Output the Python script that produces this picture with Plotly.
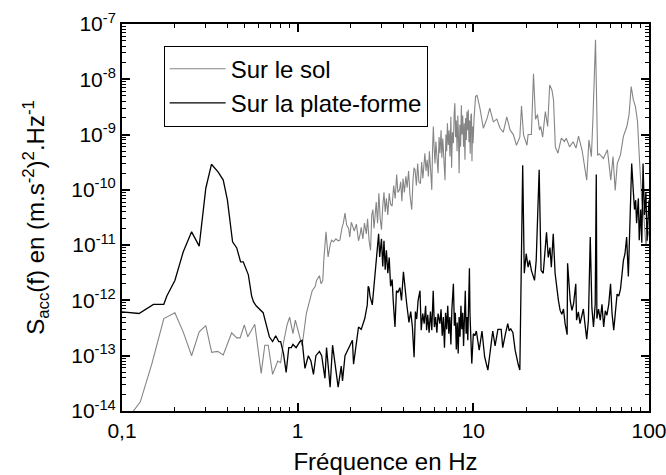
import plotly.graph_objects as go

# ---------------- data ----------------
sol_freq = [0.11, 0.116, 0.127, 0.148, 0.173, 0.200, 0.223, 0.249, 0.275, 0.300, 0.324, 0.350, 0.377,
            0.421, 0.450, 0.470, 0.497, 0.520, 0.570, 0.620, 0.650, 0.680, 0.720, 0.770, 0.800, 0.830,
            0.870, 0.900, 0.940, 0.970, 1.00, 1.06, 1.12, 1.17, 1.21, 1.26, 1.28, 1.33, 1.36, 1.39,
            1.41, 1.45, 1.49, 1.53, 1.56, 1.60, 1.65, 1.70, 1.74, 1.79, 1.82, 1.86, 1.90, 1.95, 1.98,
            2.02, 2.05, 2.10, 2.16, 2.22, 2.27, 2.30, 2.35, 2.40, 2.46, 2.50, 2.55, 2.60, 2.64, 2.68,
            2.72, 2.76, 2.80, 2.85, 2.90, 2.95, 3.00, 3.05, 3.10, 3.15, 3.20, 3.26, 3.32, 3.38, 3.45,
            3.52, 3.59, 3.66, 3.72, 3.80, 3.86, 3.92, 3.98, 4.05, 4.13, 4.20, 4.28, 4.36, 4.46, 4.54,
            4.60, 4.66, 4.74, 4.82, 4.90, 5.00, 5.08, 5.16, 5.24, 5.30, 5.38, 5.46, 5.55, 5.62, 5.70,
            5.80, 5.86, 5.92, 5.98, 6.05, 6.12, 6.20, 6.30, 6.38, 6.46, 6.55, 6.62, 6.70, 6.90, 6.98,
            7.05, 7.12, 7.20, 7.28, 7.36, 7.45, 7.52, 7.60, 7.70, 7.78, 7.85, 7.92, 8.00, 8.08, 8.16,
            8.24, 8.30, 8.38, 8.46, 8.55, 8.62, 8.70, 8.80, 8.88, 8.96, 9.04, 9.12, 9.20, 9.28, 9.36,
            9.44, 9.52, 9.60, 9.68, 9.76, 9.82, 9.90, 9.96, 10.02, 10.1, 10.3, 10.5, 10.9, 11.4, 12.0,
            12.4, 13.0, 13.6, 14.2, 14.8, 15.5, 16.2, 16.9, 17.6, 18.4, 18.8, 19.3, 20.2, 20.5, 21.4,
            22.0, 22.6, 23.2, 23.8, 24.2, 24.8, 25.7, 26.5, 27.2, 28.0, 28.6, 29.3, 30.3, 31.7, 33.0,
            33.8, 35.3, 37.0, 38.4, 39.7, 41.6, 44.2, 45.5, 47.0, 48.0, 49.6, 51.0, 52.0, 55.0, 58.0,
            60.6, 62.4, 64.2, 66.0, 68.8, 71.5, 74.8, 77.0, 79.2, 81.4, 83.7, 86.0, 88.5, 91.0, 93.5,
            96.0, 100.0]
sol_psd = [8e-15, 1.0e-14, 1.45e-14, 7.2e-14, 4.7e-13, 6.0e-13, 2.7e-13, 1.0e-13, 2.7e-13, 3.5e-13, 1.15e-13, 1.2e-13, 1.03e-13,
           2.6e-13, 2.1e-13, 2.1e-13, 3.6e-13, 2.2e-13, 3.7e-13, 4.8e-14, 1.55e-13, 1.55e-13, 4.6e-14, 8e-14, 7.5e-14, 1.7e-13,
           3.6e-13, 5e-13, 2.5e-13, 4.4e-13, 3e-13, 1.5e-13, 5.8e-13, 1.0e-12, 1.5e-12, 1.8e-12, 2.3e-12, 2.8e-12, 2.0e-12, 2.3e-12,
           5.7e-12, 1.74e-11, 6.1e-12, 1.0e-11, 1.23e-11, 1.15e-11, 1.3e-11, 1.2e-11, 1.23e-11, 2.1e-11, 2.5e-11, 3.8e-11, 2.3e-11, 2.0e-11, 1.4e-11,
           2.6e-11, 2.3e-11, 1.8e-11, 2.4e-11, 1.2e-11, 1.6e-11, 2.1e-11, 1.3e-11, 2.5e-11, 1.6e-11, 3.0e-11, 1.2e-11, 8e-12, 3.5e-11, 4.4e-11,
           2.0e-11, 3.4e-11, 6.0e-11, 2.5e-11, 8.7e-11, 3.0e-11, 1.9e-11, 5.0e-11, 9.0e-11, 4.0e-11, 7.0e-11, 3.5e-11, 8.7e-11, 5.5e-11, 5.1e-11,
           1.2e-10, 7.0e-11, 1.9e-10, 9.0e-11, 1.0e-10, 1.4e-10, 6.2e-11, 1.6e-10, 9.0e-11, 1.75e-10, 1.1e-10, 2.2e-10, 8.0e-11, 4.4e-11, 1.6e-10,
           2.5e-10, 2.3e-10, 1.2e-10, 3.0e-10, 1.4e-10, 1.3e-10, 3.2e-10, 1.6e-10, 3.8e-10, 4.6e-10, 2.2e-10, 3.5e-10, 1.75e-10, 5.0e-10, 2.6e-10,
           1.0e-10, 5.5e-10, 1.4e-09, 6.0e-10, 3.0e-10, 7.5e-10, 3.5e-10, 2.0e-10, 9.0e-10, 4.6e-10, 1.2e-09, 3.8e-10, 8.5e-10, 1.5e-10, 1.0e-09,
           5.0e-10, 1.6e-09, 6.5e-10, 1.2e-09, 4.0e-10, 2.1e-09, 2.5e-10, 1.1e-09, 7.0e-10, 2.4e-09, 3.7e-09, 9.0e-10, 1.8e-09, 5.0e-10, 2.2e-09,
           8.0e-10, 2.0e-10, 1.5e-09, 6.0e-10, 3.4e-09, 1.0e-09, 2.2e-09, 6.0e-10, 1.6e-09, 3.5e-10, 2.0e-09, 8.0e-10, 2.6e-09, 1.2e-09, 2.8e-09,
           7.3e-10, 1.8e-09, 4.5e-10, 2.2e-09, 2.4e-09, 3.3e-10, 1.4e-09, 7.0e-10, 1.2e-09, 2.0e-09, 4.9e-09, 5.1e-09, 3.0e-09, 1.3e-09, 2.0e-09,
           3.0e-09, 1.7e-09, 1.9e-09, 1.3e-09, 1.1e-09, 2.1e-09, 1.2e-09, 1.0e-09, 6.4e-10, 9e-10, 3.3e-09, 1.0e-09, 6.4e-10, 1.0e-09, 1.0e-09,
           1.26e-08, 1.9e-09, 2.3e-09, 1.2e-09, 1.4e-09, 9e-10, 2.6e-09, 1.4e-09, 7.9e-09, 6.4e-09, 4.3e-09, 6e-10, 4.6e-10, 8.6e-10, 7.5e-10,
           8.6e-10, 6e-10, 7.4e-10, 5.7e-10, 9.4e-10, 5.2e-10, 1.5e-10, 8e-10, 4e-10, 2.1e-09, 5.2e-08, 4.2e-10, 4.5e-10, 3.7e-10, 5.3e-10,
           1.5e-10, 4e-10, 9.8e-11, 3e-10, 4.3e-10, 9.3e-10, 1.4e-09, 2.3e-09, 7.4e-09, 4.3e-09, 3.2e-09, 1.75e-09, 3e-10, 6.6e-11, 3.3e-11,
           1.0e-11, 1.8e-11]

plateforme_freq = [0.100, 0.125, 0.151, 0.173, 0.180, 0.200, 0.223, 0.249, 0.275, 0.300, 0.323, 0.353, 0.377, 0.398,
                   0.426, 0.450, 0.473, 0.490, 0.524, 0.547, 0.56, 0.58, 0.636, 0.66, 0.69, 0.72, 0.75, 0.78, 0.80,
                   0.83, 0.86, 0.89, 0.92, 0.94, 0.98, 1.03, 1.06, 1.10, 1.15, 1.19, 1.23, 1.27, 1.33, 1.37, 1.43,
                   1.46, 1.53, 1.58, 1.62, 1.70, 1.77, 1.80, 1.86, 1.94, 1.98, 2.05, 2.08, 2.22, 2.30, 2.41, 2.49,
                   2.52, 2.55, 2.58, 2.66, 2.75, 2.82, 2.89, 2.93, 3.00, 3.05, 3.10, 3.15, 3.20, 3.26, 3.32, 3.38,
                   3.45, 3.50, 3.58, 3.65, 3.72, 3.82, 3.90, 4.00, 4.05, 4.17, 4.24, 4.30, 4.40, 4.50, 4.60, 4.68,
                   4.76, 4.85, 4.97, 5.05, 5.15, 5.25, 5.35, 5.42, 5.50, 5.60, 5.70, 5.80, 5.91, 6.00, 6.10, 6.20,
                   6.30, 6.45, 6.55, 6.65, 6.75, 6.85, 6.95, 7.05, 7.15, 7.25, 7.35, 7.45, 7.55, 7.70, 7.80, 7.90,
                   8.00, 8.10, 8.20, 8.30, 8.40, 8.50, 8.60, 8.70, 8.80, 8.90, 9.00, 9.10, 9.20, 9.30, 9.40, 9.50,
                   9.57, 9.65, 9.80, 10.0, 10.2, 10.4, 10.8, 11.2, 11.6, 12.1, 12.4, 12.9, 13.3, 13.8, 14.4, 14.7,
                   15.2, 15.7, 16.0, 16.3, 16.8, 17.3, 18.0, 18.4, 19.1, 19.5, 20.0, 20.5, 20.9, 21.4, 22.3, 22.8,
                   23.7, 24.3, 25.0, 26.1, 26.7, 27.3, 27.8, 28.5, 29.2, 29.9, 30.5, 31.2, 31.9, 32.6, 33.3, 34.2,
                   34.4, 35.6, 36.4, 37.2, 38.3, 38.7, 39.6, 40.5, 41.4, 42.3, 43.3, 44.2, 45.2, 46.3, 47.3, 48.3,
                   49.4, 50.1, 50.5, 51.6, 52.8, 54.0, 55.2, 56.4, 57.6, 59.0, 60.4, 61.6, 63.0, 64.4, 65.8, 67.3,
                   68.8, 70.0, 71.5, 73.0, 74.6, 76.3, 78.0, 79.7, 81.5, 82.7, 84.0, 85.0, 87.0, 88.0, 89.7, 91.0,
                   92.5, 94.2, 96.0, 97.5, 100.0]
plateforme_psd = [6.2e-13, 5.8e-13, 8.5e-13, 8.5e-13, 1.2e-12, 2.3e-12, 7.5e-12, 1.74e-11, 9.6e-12, 1.07e-10, 2.9e-10, 2.1e-10, 1.5e-10, 6.6e-11,
                  1.15e-11, 8.9e-12, 5.0e-12, 5.0e-12, 2.9e-12, 1.2e-12, 9.5e-13, 8e-13, 6e-13, 3.6e-13, 2.2e-13, 1.8e-13, 2.3e-13, 1.8e-13, 1.8e-13,
                  1.1e-13, 5e-14, 1.4e-13, 1.4e-13, 1.6e-13, 1.4e-13, 1.8e-13, 1.9e-13, 5.9e-14, 1.0e-13, 8e-14, 4.6e-14, 1.0e-13, 1.2e-13, 1.0e-13, 3.9e-14,
                  1.4e-13, 2.7e-14, 1.55e-13, 9e-14, 2.7e-14, 6.5e-14, 3.5e-14, 1.0e-13, 1.35e-13, 1.6e-13, 1.9e-13, 7e-14, 3.3e-13, 3.0e-13, 4.7e-13, 8.3e-13,
                  1.8e-12, 1.66e-12, 1.2e-12, 8.3e-13, 3.1e-12, 8.1e-12, 1.6e-11, 6.1e-12, 1.3e-11, 4.1e-12, 1.2e-11, 3.6e-12, 8.1e-12, 3.1e-12, 6.0e-12, 1.8e-12,
                  2.4e-12, 9.8e-13, 3.3e-13, 1.5e-12, 1.4e-12, 1.7e-12, 1.0e-12, 3.3e-12, 2.0e-12, 9e-13, 5.8e-13, 4.0e-13, 6.3e-13, 3.3e-13, 9.4e-14, 6.3e-13,
                  4.6e-13, 1.0e-12, 1.5e-12, 2.9e-13, 5.8e-13, 3.8e-13, 8e-13, 2.9e-13, 5.5e-13, 2.6e-13, 6.3e-13, 2.9e-13, 1.5e-12, 3.3e-13, 5e-13, 2.6e-13,
                  5.8e-13, 3.8e-13, 6.9e-13, 2.3e-13, 5e-13, 1.4e-13, 6e-13, 3e-13, 8e-13, 2.5e-13, 5e-13, 1.6e-13, 7e-13, 2.0e-12, 3.5e-13, 6e-13,
                  1.3e-13, 4e-13, 1.1e-13, 5e-13, 2.2e-13, 8e-13, 3e-13, 6e-13, 1.5e-13, 7e-13, 1.5e-12, 2.5e-13, 5e-13, 1.9e-13, 6.5e-13, 3.8e-12,
                  5.7e-13, 2.5e-13, 7.2e-14, 2.5e-13, 2.3e-13, 2.8e-13, 1.26e-13, 2.8e-13, 9.5e-14, 5.5e-14, 1.1e-13, 2.8e-13, 1.5e-13, 3e-13, 3e-13, 1.4e-13,
                  2.4e-13, 3.8e-13, 2.8e-13, 3.1e-13, 2.6e-13, 1.26e-13, 7e-14, 5.5e-14, 2.8e-10, 3.1e-12, 7e-12, 4e-12, 5.3e-12, 3.5e-12, 2.3e-12, 5.3e-12,
                  2.3e-10, 3.5e-12, 3.1e-12, 1.7e-11, 6e-12, 9e-12, 4e-12, 1.6e-11, 3.1e-12, 1.5e-12, 1.0e-12, 6.6e-13, 5.6e-13, 7e-13, 3.8e-13, 2.4e-13,
                  4.7e-12, 1.0e-12, 6.6e-13, 8.7e-13, 2.0e-12, 4.4e-13, 6.2e-13, 3.8e-13, 5e-13, 7e-13, 3.5e-13, 2e-13, 4.4e-13, 1.4e-11, 7.4e-13, 3.3e-13,
                  8.5e-13, 1.9e-10, 4.7e-13, 7e-13, 4.4e-13, 8.5e-13, 3.3e-13, 6.5e-13, 5.4e-13, 8.5e-13, 2e-12, 5.8e-13, 2.9e-13, 7.4e-13, 1.3e-12, 1.2e-12,
                  1.6e-12, 2.7e-12, 5.3e-12, 7e-12, 1.4e-11, 2.7e-12, 2.3e-11, 3e-10, 9e-11, 4.4e-11, 6.5e-11, 2.5e-11, 7e-11, 1.23e-11, 4.4e-11, 1.1e-11,
                  3e-10, 3.5e-11, 9e-11, 1.2e-11, 6.5e-11]

x_tick_vals = [0.1, 1, 10, 100]
x_tick_text = ["0,1", "1", "10", "100"]
y_tick_vals = [1e-14, 1e-13, 1e-12, 1e-11, 1e-10, 1e-9, 1e-8, 1e-7]
y_tick_text = ["10<sup>-14</sup>", "10<sup>-13</sup>", "10<sup>-12</sup>", "10<sup>-11</sup>",
               "10<sup>-10</sup>", "10<sup>-9</sup>", "10<sup>-8</sup>", "10<sup>-7</sup>"]

FONT = "Liberation Sans, Arial, Helvetica, sans-serif"

fig = go.Figure()
fig.add_trace(go.Scatter(x=sol_freq, y=sol_psd, mode="lines", name="Sur le sol",
                         line=dict(color="#858585", width=1.1)))
fig.add_trace(go.Scatter(x=plateforme_freq, y=plateforme_psd, mode="lines", name="Sur la plate-forme",
                         line=dict(color="#000000", width=1.3)))

x_minor = [m * 10 ** e for e in range(-1, 2) for m in range(2, 10)]
y_minor = [m * 10.0 ** e for e in range(-14, -7) for m in range(2, 10)]

axis_common = dict(type="log", showgrid=False, zeroline=False, showline=True, linecolor="black",
                   linewidth=2, mirror="allticks", ticks="inside", ticklen=8, tickwidth=1.5,
                   tickcolor="black", automargin=False, ticklabeloverflow="allow",
                   tickfont=dict(family=FONT, size=21, color="black"))

fig.update_xaxes(range=[-1, 2], tickmode="array", tickvals=x_tick_vals, ticktext=x_tick_text,
                 minor=dict(tickmode="array", tickvals=x_minor, ticks="inside", ticklen=4,
                            tickwidth=1, tickcolor="black", showgrid=False),
                 title=dict(text="Fréquence en Hz", font=dict(family=FONT, size=24, color="black"),
                            standoff=12),
                 **axis_common)
fig.update_yaxes(range=[-14, -7], tickmode="array", tickvals=y_tick_vals, ticktext=y_tick_text,
                 minor=dict(tickmode="array", tickvals=y_minor, ticks="inside", ticklen=4,
                            tickwidth=1, tickcolor="black", showgrid=False),
                 title=dict(text="S<sub>acc</sub>(f) en (m.s<sup>-2</sup>)<sup>2</sup>.Hz<sup>-1</sup>",
                            font=dict(family=FONT, size=24, color="black"), standoff=20),
                 **axis_common)

fig.update_layout(
    width=666, height=475,
    margin=dict(l=122, r=17, t=24, b=64),
    paper_bgcolor="white", plot_bgcolor="white",
    font=dict(family=FONT, size=21, color="black"),
    showlegend=True,
    legend=dict(x=0.079, y=0.944, xanchor="left", yanchor="top", bgcolor="white",
                bordercolor="black", borderwidth=1, itemwidth=56,
                font=dict(family=FONT, size=24, color="black"),
                tracegroupgap=0),
)

# remove the default page margin so the figure sits at the window's top-left corner
fig.write_html("out.html",
               config={"displayModeBar": False},
               post_script="document.body.style.margin='0';document.body.style.overflow='hidden';")
